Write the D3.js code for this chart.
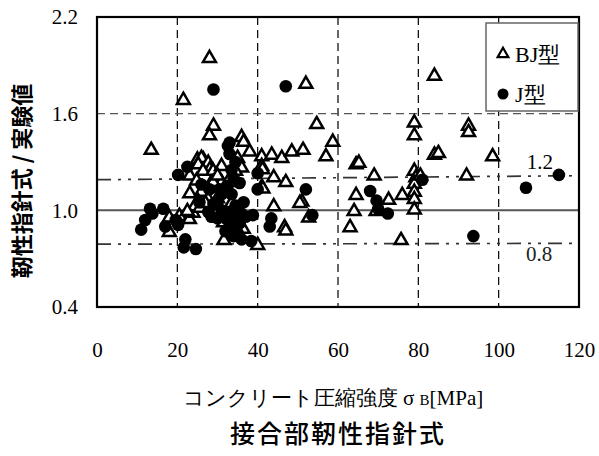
<!DOCTYPE html>
<html><head><meta charset="utf-8">
<script src="https://cdn.jsdelivr.net/npm/d3@7"></script>
<style>
html,body{margin:0;padding:0;background:#fff;}
svg{display:block;}
</style></head>
<body>
<script>
const xTicks = [0,20,40,60,80,100,120];
const yTicks = [0.4,1.0,1.6,2.2];
const yTickLabels = ["0.4","1.0","1.6","2.2"];
// BJ型 (triangles): [σB, ratio]
const bjX = [13.5,21.5,28,29,28,36,36.5,38,35,41,43.5,46,48.5,25,26.5,52,84,54.7,79,79,92.5,92.5,58.7,51.3,57,84,85,98.5,64.5,65.2,69,79,79.4,79,79,79,79,80.5,51,50.5,52.7,64.5,72.6,76,64,69.5,63,75.7,92,
  26,25.2,27.7,28.1,26.4,23.1,24.8,28.5,23.1,26,25.2,27.7,28.9,18,18,20.5,23,23.9,24.3,25.6,36.4,40,31.6,41,44,47,44,46.7,47,36,41,41.2,28.9,31,33.5,28.9,41.3,34.5,31,30,32,30,33.5,29.5,31.5,33,27,22.5];
const bjY = [1.38,1.69,1.95,1.53,1.47,1.46,1.43,1.37,1.33,1.34,1.35,1.33,1.37,1.32,1.32,1.79,1.84,1.54,1.55,1.47,1.53,1.49,1.43,1.38,1.34,1.35,1.36,1.34,1.29,1.30,1.22,1.25,1.21,1.17,1.12,1.075,1.01,1.22,1.06,1.05,0.96,1.10,1.07,1.10,1.00,1.00,0.90,0.82,1.22,
  1.33,1.29,1.30,1.26,1.25,1.22,1.19,1.18,1.11,1.12,1.06,1.075,1.02,0.87,0.96,0.97,0.95,0.99,1.03,1.02,0.89,0.79,0.82,1.15,1.21,1.18,1.03,0.90,0.88,1.27,1.28,1.26,1.25,1.18,1.18,1.18,1.14,1.25,1.28,1.22,1.12,1.08,1.05,0.98,0.93,1.20,1.05,1.00];
// J型 (circles)
const jX = [29,47,33,33,32.6,22.5,20.2,81,52,53.6,68,69.6,70,72.4,106.8,115,93.7,13.2,13.8,16.5,12,11,17,19.6,22,21.6,24.6,27.7,35.9,38.8,36,38.4,40,40,43.4,43,35.5,26,28,
  30,31,32,33,34,35,33.5,34.5,35,32.5,34,31,30,33,35.5,36.5,29,28.5,34,32,37,30.5,34.5,33.5,20.2,25.5];
const jY = [1.75,1.77,1.42,1.35,1.40,1.27,1.22,1.19,1.13,0.97,1.12,1.06,1.01,0.98,1.14,1.22,0.84,1.01,0.98,1.01,0.94,0.88,0.90,0.94,0.82,0.77,0.76,0.99,0.98,0.97,0.82,0.81,1.23,1.13,0.95,0.90,1.17,1.16,1.13,
  1.05,1.00,0.95,0.92,0.88,0.86,1.10,1.03,0.97,1.15,1.20,1.10,0.95,0.99,0.92,1.05,1.04,0.96,0.84,0.87,0.96,1.13,1.30,1.25,0.91,1.05];
const refLines = [[1.19,1.215,"1.2"],[0.79,0.795,"0.8"]];

const W=599,H=456;
const svg=d3.select("body").append("svg").attr("width",W).attr("height",H);
const x=d3.scaleLinear().domain([0,120]).range([97,579]);
const y=d3.scaleLinear().domain([0.4,2.2]).range([307,17]);
const serif="'Liberation Serif','Times New Roman',serif";

// gridlines vertical
svg.append("g").selectAll("line").data([20,40,60,80,100]).join("line")
  .attr("x1",d=>x(d)).attr("x2",d=>x(d)).attr("y1",y(2.2)).attr("y2",y(0.4))
  .attr("stroke","#000").attr("stroke-width",1.2).attr("stroke-dasharray","8,5");
// horizontal dashed at 1.6
svg.append("line").attr("x1",x(0)).attr("x2",x(120)).attr("y1",y(1.6)).attr("y2",y(1.6))
  .attr("stroke","#555").attr("stroke-width",1.2).attr("stroke-dasharray","8,5");
// solid 1.0
svg.append("line").attr("x1",x(0)).attr("x2",x(120)).attr("y1",y(1.0)).attr("y2",y(1.0))
  .attr("stroke","#555").attr("stroke-width",2);
// dash-dot ref lines
svg.append("g").selectAll("line").data(refLines).join("line")
  .attr("x1",x(0)).attr("x2",x(120)).attr("y1",d=>y(d[0])).attr("y2",d=>y(d[1]))
  .attr("stroke","#333").attr("stroke-width",1.7).attr("stroke-dasharray","14,7,3,7,3,7");

// points
const bj=bjX.map((v,i)=>[v,bjY[i]]);
const jj=jX.map((v,i)=>[v,jY[i]]);
const tri=d3.symbol().type(d3.symbolTriangle).size(72);
svg.append("g").selectAll("path").data(bj).join("path")
  .attr("d",tri).attr("transform",d=>`translate(${x(d[0])},${y(d[1])+1})`)
  .attr("fill","#fff").attr("stroke","#000").attr("stroke-width",2.5);
svg.append("g").selectAll("circle").data(jj).join("circle")
  .attr("cx",d=>x(d[0])).attr("cy",d=>y(d[1])).attr("r",6.3).attr("fill","#000");

// ref line labels
svg.append("text").attr("x",x(107)).attr("y",y(1.2)-9).attr("font-family",serif).attr("font-size",21).text("1.2");
svg.append("text").attr("x",x(106.8)).attr("y",y(0.8)+18).attr("font-family",serif).attr("font-size",21).attr("fill","#222").text("0.8");

// frame
svg.append("rect").attr("x",x(0)).attr("y",y(2.2)).attr("width",x(120)-x(0)).attr("height",y(0.4)-y(2.2))
  .attr("fill","none").attr("stroke","#000").attr("stroke-width",2.2);

// axes labels
const xa=svg.append("g").attr("transform",`translate(0,${y(0.4)})`)
  .call(d3.axisBottom(x).tickValues(xTicks).tickSize(0).tickPadding(35).tickFormat(d3.format("d")));
xa.select(".domain").remove();
xa.selectAll("text").attr("font-family",serif).attr("font-size",21).attr("fill","#000");
const ya=svg.append("g").attr("transform",`translate(${x(0)},0)`)
  .call(d3.axisLeft(y).tickValues(yTicks).tickSize(0).tickPadding(19).tickFormat((d,i)=>yTickLabels[i]));
ya.select(".domain").remove();
ya.selectAll("text").attr("font-family",serif).attr("font-size",21).attr("fill","#000");

// legend
const lg=svg.append("g");
lg.append("rect").attr("x",486).attr("y",23).attr("width",92).attr("height",88).attr("fill","#fff").attr("stroke","#666").attr("stroke-width",1.5);
lg.append("path").attr("d",d3.symbol().type(d3.symbolTriangle).size(50)).attr("transform","translate(503,54)")
  .attr("fill","#fff").attr("stroke","#000").attr("stroke-width",2.2);
lg.append("circle").attr("cx",503).attr("cy",94).attr("r",5.5).attr("fill","#000");
lg.append("text").attr("x",515).attr("y",62).attr("font-family",serif).attr("font-size",22).text("BJ型");
lg.append("text").attr("x",515).attr("y",102).attr("font-family",serif).attr("font-size",22).text("J型");

// axis titles
svg.append("text").attr("x",333).attr("y",405).attr("text-anchor","middle").attr("font-family",serif).attr("font-size",21)
  .html("コンクリート圧縮強度 σ <tspan font-size='15'>B</tspan>[MPa]");
svg.append("text").attr("transform","translate(30,181) rotate(-90)").attr("text-anchor","middle")
  .attr("font-family","'Noto Sans CJK JP',sans-serif").attr("font-size",22).attr("font-weight",700).text("靭性指針式 / 実験値");
svg.append("text").attr("x",338).attr("y",443).attr("text-anchor","middle")
  .attr("font-family","'Noto Sans CJK JP',sans-serif").attr("font-size",25).attr("font-weight",500).attr("letter-spacing",2).text("接合部靭性指針式");
</script>
</body></html>
